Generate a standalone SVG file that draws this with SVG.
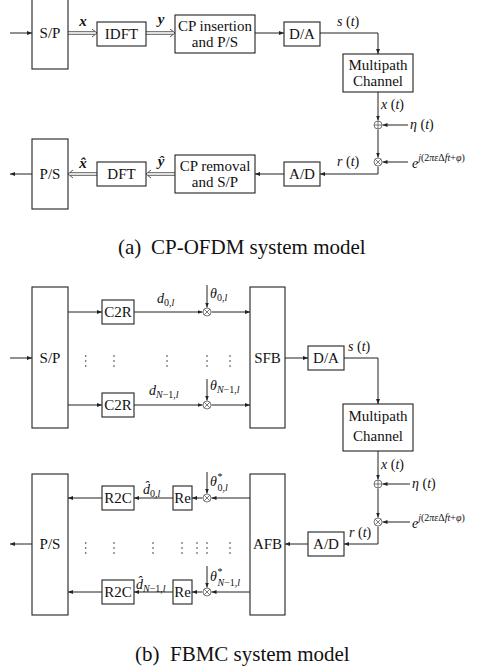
<svg xmlns="http://www.w3.org/2000/svg" width="478" height="672" viewBox="0 0 478 672">
<style>
.bx{fill:#fff;stroke:#222;stroke-width:1.1}
.ln{fill:none;stroke:#222;stroke-width:1}
.dl{fill:none;stroke:#333;stroke-width:0.8}
.op{fill:#fff;stroke:#555;stroke-width:0.8}
text{font-family:"Liberation Serif","DejaVu Serif",serif;fill:#111}
.t{font-size:15px;text-anchor:middle}
.m{font-size:14px;font-style:italic}
.n{font-style:normal}
.s{font-size:10px}
.v{font-size:15px;font-weight:bold;font-style:italic;text-anchor:middle}
.cap{font-size:21px}
.dot{fill:#333}
</style>
<defs>
<marker id="ah" markerWidth="6" markerHeight="5" refX="5" refY="2" orient="auto" markerUnits="userSpaceOnUse"><path d="M0,0 L5,2 L0,4 z" fill="#222"/></marker>
</defs>

<g id="connectors">
<!-- (a) -->
<line class="ln" x1="10" y1="33" x2="32" y2="33" marker-end="url(#ah)"/>
<path class="dl" d="M68,31.7 H95 M68,34.3 H95 M92,29 L97,33 L92,37"/>
<path class="dl" d="M146,31.7 H173 M146,34.3 H173 M170,29 L175,33 L170,37"/>
<line class="ln" x1="255" y1="33" x2="284" y2="33" marker-end="url(#ah)"/>
<polyline class="ln" points="320,33 378,33 378,54" marker-end="url(#ah)"/>
<line class="ln" x1="378" y1="92" x2="378" y2="120.5" marker-end="url(#ah)"/>
<line class="ln" x1="408" y1="125" x2="382.5" y2="125" marker-end="url(#ah)"/>
<line class="ln" x1="378" y1="129.5" x2="378" y2="157.5" marker-end="url(#ah)"/>
<line class="ln" x1="408" y1="162" x2="382.5" y2="162" marker-end="url(#ah)"/>
<polyline class="ln" points="378,166.5 378,174 320,174" marker-end="url(#ah)"/>
<line class="ln" x1="284" y1="174" x2="255" y2="174" marker-end="url(#ah)"/>
<path class="dl" d="M175,172.7 H148 M175,175.3 H148 M151,170 L146,174 L151,178"/>
<path class="dl" d="M97,172.7 H70 M97,175.3 H70 M73,170 L68,174 L73,178"/>
<line class="ln" x1="32" y1="174" x2="10" y2="174" marker-end="url(#ah)"/>
<!-- (b) transmitter -->
<line class="ln" x1="10" y1="358" x2="32" y2="358" marker-end="url(#ah)"/>
<line class="ln" x1="68" y1="312" x2="102" y2="312" marker-end="url(#ah)"/>
<line class="ln" x1="134" y1="312" x2="202.5" y2="312" marker-end="url(#ah)"/>
<line class="ln" x1="207" y1="285" x2="207" y2="307.5" marker-end="url(#ah)"/>
<line class="ln" x1="211.5" y1="312" x2="250" y2="312" marker-end="url(#ah)"/>
<line class="ln" x1="68" y1="405" x2="102" y2="405" marker-end="url(#ah)"/>
<line class="ln" x1="134" y1="405" x2="202.5" y2="405" marker-end="url(#ah)"/>
<line class="ln" x1="207" y1="379" x2="207" y2="400.5" marker-end="url(#ah)"/>
<line class="ln" x1="211.5" y1="405" x2="250" y2="405" marker-end="url(#ah)"/>
<line class="ln" x1="285" y1="358" x2="308" y2="358" marker-end="url(#ah)"/>
<polyline class="ln" points="344,358 378,358 378,404" marker-end="url(#ah)"/>
<!-- (b) channel -->
<line class="ln" x1="378" y1="451" x2="378" y2="479.5" marker-end="url(#ah)"/>
<line class="ln" x1="410" y1="484" x2="382.5" y2="484" marker-end="url(#ah)"/>
<line class="ln" x1="378" y1="488.5" x2="378" y2="517.5" marker-end="url(#ah)"/>
<line class="ln" x1="410" y1="522" x2="382.5" y2="522" marker-end="url(#ah)"/>
<polyline class="ln" points="378,526.5 378,544 344,544" marker-end="url(#ah)"/>
<line class="ln" x1="308" y1="544" x2="285" y2="544" marker-end="url(#ah)"/>
<!-- (b) receiver -->
<line class="ln" x1="250" y1="498" x2="211.5" y2="498" marker-end="url(#ah)"/>
<line class="ln" x1="207" y1="472" x2="207" y2="493.5" marker-end="url(#ah)"/>
<line class="ln" x1="202.5" y1="498" x2="192" y2="498" marker-end="url(#ah)"/>
<line class="ln" x1="173" y1="498" x2="134" y2="498" marker-end="url(#ah)"/>
<line class="ln" x1="102" y1="498" x2="68" y2="498" marker-end="url(#ah)"/>
<line class="ln" x1="250" y1="592" x2="211.5" y2="592" marker-end="url(#ah)"/>
<line class="ln" x1="207" y1="566" x2="207" y2="587.5" marker-end="url(#ah)"/>
<line class="ln" x1="202.5" y1="592" x2="192" y2="592" marker-end="url(#ah)"/>
<line class="ln" x1="173" y1="592" x2="134" y2="592" marker-end="url(#ah)"/>
<line class="ln" x1="102" y1="592" x2="68" y2="592" marker-end="url(#ah)"/>
<line class="ln" x1="32" y1="544" x2="10" y2="544" marker-end="url(#ah)"/>
</g>

<!-- (a) nodes -->
<g id="sp-a"><rect class="bx" x="32" y="-2" width="36" height="71"/><text class="t" x="50" y="38">S/P</text></g>
<g id="idft"><rect class="bx" x="97" y="22" width="49" height="24"/><text class="t" x="121.5" y="39">IDFT</text></g>
<g id="cpins"><rect class="bx" x="175" y="15" width="80" height="38"/><text class="t" x="215" y="31">CP insertion</text><text class="t" x="215" y="47">and P/S</text></g>
<g id="da-a"><rect class="bx" x="284" y="22" width="36" height="24"/><text class="t" x="302" y="39">D/A</text></g>
<g id="chan-a"><rect class="bx" x="343" y="54" width="70" height="38"/><text class="t" x="378" y="70">Multipath</text><text class="t" x="378" y="86">Channel</text></g>
<g id="add-a"><circle class="op" cx="378" cy="125" r="4"/><path class="op" d="M374,125 H382 M378,121 V129"/></g>
<g id="mul-a"><circle class="op" cx="378" cy="162" r="4"/><path class="op" d="M375.2,159.2 L380.8,164.8 M380.8,159.2 L375.2,164.8"/></g>
<g id="ad-a"><rect class="bx" x="284" y="162" width="36" height="24"/><text class="t" x="302" y="179">A/D</text></g>
<g id="cprem"><rect class="bx" x="175" y="155" width="80" height="38"/><text class="t" x="215" y="171">CP removal</text><text class="t" x="215" y="187">and S/P</text></g>
<g id="dft"><rect class="bx" x="97" y="162" width="49" height="24"/><text class="t" x="121.5" y="179">DFT</text></g>
<g id="ps-a"><rect class="bx" x="32" y="139" width="36" height="70"/><text class="t" x="50" y="179">P/S</text></g>

<!-- (a) labels -->
<g id="labels-a">
<text class="v" x="83" y="26">x</text>
<text class="v" x="161" y="24">y</text>
<text class="m" x="337" y="26">s <tspan class="n">(</tspan>t<tspan class="n">)</tspan></text>
<text class="m" x="381" y="109">x <tspan class="n">(</tspan>t<tspan class="n">)</tspan></text>
<text class="m" x="410" y="129">η <tspan class="n">(</tspan>t<tspan class="n">)</tspan></text>
<text class="m" x="412" y="168" font-size="15">e<tspan class="s" dy="-7">j</tspan><tspan class="s n">(2</tspan><tspan class="s">πε</tspan><tspan class="s n">Δ</tspan><tspan class="s">ft</tspan><tspan class="s n">+</tspan><tspan class="s">φ</tspan><tspan class="s n">)</tspan></text>
<text class="m" x="337" y="166">r <tspan class="n">(</tspan>t<tspan class="n">)</tspan></text>
<text class="v" x="161" y="166">ŷ</text>
<text class="v" x="83" y="168">x̂</text>
</g>

<!-- (b) transmitter nodes -->
<g id="sp-b"><rect class="bx" x="32" y="287" width="36" height="141"/><text class="t" x="50" y="363">S/P</text></g>
<g id="c2r-0"><rect class="bx" x="102" y="300" width="32" height="24"/><text class="t" x="118" y="317">C2R</text></g>
<g id="c2r-n"><rect class="bx" x="102" y="393" width="32" height="24"/><text class="t" x="118" y="410">C2R</text></g>
<g id="mul-t0"><circle class="op" cx="207" cy="312" r="4"/><path class="op" d="M204.2,309.2 L209.8,314.8 M209.8,309.2 L204.2,314.8"/></g>
<g id="mul-tn"><circle class="op" cx="207" cy="405" r="4"/><path class="op" d="M204.2,402.2 L209.8,407.8 M209.8,402.2 L204.2,407.8"/></g>
<g id="sfb"><rect class="bx" x="250" y="287" width="35" height="141"/><text class="t" x="267.5" y="363">SFB</text></g>
<g id="da-b"><rect class="bx" x="308" y="346" width="36" height="24"/><text class="t" x="326" y="363">D/A</text></g>
<g id="chan-b"><rect class="bx" x="343" y="404" width="70" height="47"/><text class="t" x="378" y="421">Multipath</text><text class="t" x="378" y="441">Channel</text></g>
<g id="add-b"><circle class="op" cx="378" cy="484" r="4"/><path class="op" d="M374,484 H382 M378,480 V488"/></g>
<g id="mul-b"><circle class="op" cx="378" cy="522" r="4"/><path class="op" d="M375.2,519.2 L380.8,524.8 M380.8,519.2 L375.2,524.8"/></g>
<g id="ad-b"><rect class="bx" x="308" y="532" width="36" height="24"/><text class="t" x="326" y="549">A/D</text></g>
<g id="afb"><rect class="bx" x="250" y="474" width="35" height="141"/><text class="t" x="267.5" y="549">AFB</text></g>
<g id="mul-r0"><circle class="op" cx="207" cy="498" r="4"/><path class="op" d="M204.2,495.2 L209.8,500.8 M209.8,495.2 L204.2,500.8"/></g>
<g id="mul-rn"><circle class="op" cx="207" cy="592" r="4"/><path class="op" d="M204.2,589.2 L209.8,594.8 M209.8,589.2 L204.2,594.8"/></g>
<g id="re-0"><rect class="bx" x="173" y="486" width="19" height="24"/><text class="t" x="182.5" y="503">Re</text></g>
<g id="re-n"><rect class="bx" x="173" y="580" width="19" height="24"/><text class="t" x="182.5" y="597">Re</text></g>
<g id="r2c-0"><rect class="bx" x="102" y="486" width="32" height="24"/><text class="t" x="118" y="503">R2C</text></g>
<g id="r2c-n"><rect class="bx" x="102" y="580" width="32" height="24"/><text class="t" x="118" y="597">R2C</text></g>
<g id="ps-b"><rect class="bx" x="32" y="474" width="36" height="141"/><text class="t" x="50" y="549">P/S</text></g>

<!-- (b) labels -->
<g id="labels-b">
<text class="m" x="157" y="303">d<tspan class="s n" dy="3">0,</tspan><tspan class="s">l</tspan></text>
<text class="m" x="210" y="298">θ<tspan class="s n" dy="3">0,</tspan><tspan class="s">l</tspan></text>
<text class="m" x="149" y="395">d<tspan class="s" dy="3">N</tspan><tspan class="s n">−1,</tspan><tspan class="s">l</tspan></text>
<text class="m" x="210" y="390">θ<tspan class="s" dy="3">N</tspan><tspan class="s n">−1,</tspan><tspan class="s">l</tspan></text>
<text class="m" x="348" y="351">s <tspan class="n">(</tspan>t<tspan class="n">)</tspan></text>
<text class="m" x="381" y="469">x <tspan class="n">(</tspan>t<tspan class="n">)</tspan></text>
<text class="m" x="412" y="488">η <tspan class="n">(</tspan>t<tspan class="n">)</tspan></text>
<text class="m" x="412" y="528" font-size="15">e<tspan class="s" dy="-7">j</tspan><tspan class="s n">(2</tspan><tspan class="s">πε</tspan><tspan class="s n">Δ</tspan><tspan class="s">ft</tspan><tspan class="s n">+</tspan><tspan class="s">φ</tspan><tspan class="s n">)</tspan></text>
<text class="m" x="349" y="537">r <tspan class="n">(</tspan>t<tspan class="n">)</tspan></text>
<text class="m" x="210" y="486">θ<tspan class="s n" x="217.5" dy="-6">*</tspan><tspan class="s n" x="217.5" dy="11">0,</tspan><tspan class="s">l</tspan></text>
<text class="m" x="210" y="581">θ<tspan class="s n" x="217.5" dy="-6">*</tspan><tspan class="s" x="217.5" dy="11">N</tspan><tspan class="s n">−1,</tspan><tspan class="s">l</tspan></text>
<text class="m" x="143" y="494">d̂<tspan class="s n" dy="3">0,</tspan><tspan class="s">l</tspan></text>
<text class="m" x="136" y="589">d̂<tspan class="s" dy="3">N</tspan><tspan class="s n">−1,</tspan><tspan class="s">l</tspan></text>
</g>

<g id="dots">
<circle class="dot" cx="85.7" cy="356" r="0.8"/><circle class="dot" cx="85.7" cy="361" r="0.8"/><circle class="dot" cx="85.7" cy="366" r="0.8"/>
<circle class="dot" cx="114" cy="356" r="0.8"/><circle class="dot" cx="114" cy="361" r="0.8"/><circle class="dot" cx="114" cy="366" r="0.8"/>
<circle class="dot" cx="167" cy="356" r="0.8"/><circle class="dot" cx="167" cy="361" r="0.8"/><circle class="dot" cx="167" cy="366" r="0.8"/>
<circle class="dot" cx="207" cy="356" r="0.8"/><circle class="dot" cx="207" cy="361" r="0.8"/><circle class="dot" cx="207" cy="366" r="0.8"/>
<circle class="dot" cx="230" cy="356" r="0.8"/><circle class="dot" cx="230" cy="361" r="0.8"/><circle class="dot" cx="230" cy="366" r="0.8"/>
<circle class="dot" cx="85.7" cy="543" r="0.8"/><circle class="dot" cx="85.7" cy="548" r="0.8"/><circle class="dot" cx="85.7" cy="553" r="0.8"/>
<circle class="dot" cx="114" cy="543" r="0.8"/><circle class="dot" cx="114" cy="548" r="0.8"/><circle class="dot" cx="114" cy="553" r="0.8"/>
<circle class="dot" cx="153" cy="543" r="0.8"/><circle class="dot" cx="153" cy="548" r="0.8"/><circle class="dot" cx="153" cy="553" r="0.8"/>
<circle class="dot" cx="182" cy="543" r="0.8"/><circle class="dot" cx="182" cy="548" r="0.8"/><circle class="dot" cx="182" cy="553" r="0.8"/>
<circle class="dot" cx="197" cy="543" r="0.8"/><circle class="dot" cx="197" cy="548" r="0.8"/><circle class="dot" cx="197" cy="553" r="0.8"/>
<circle class="dot" cx="207" cy="543" r="0.8"/><circle class="dot" cx="207" cy="548" r="0.8"/><circle class="dot" cx="207" cy="553" r="0.8"/>
<circle class="dot" cx="230" cy="543" r="0.8"/><circle class="dot" cx="230" cy="548" r="0.8"/><circle class="dot" cx="230" cy="553" r="0.8"/>
</g>

<g id="captions">
<text class="cap" x="118" y="254">(a)</text><text class="cap" x="151" y="254">CP-OFDM system model</text>
<text class="cap" x="135" y="661">(b)</text><text class="cap" x="170" y="661">FBMC system model</text>
</g>
</svg>
